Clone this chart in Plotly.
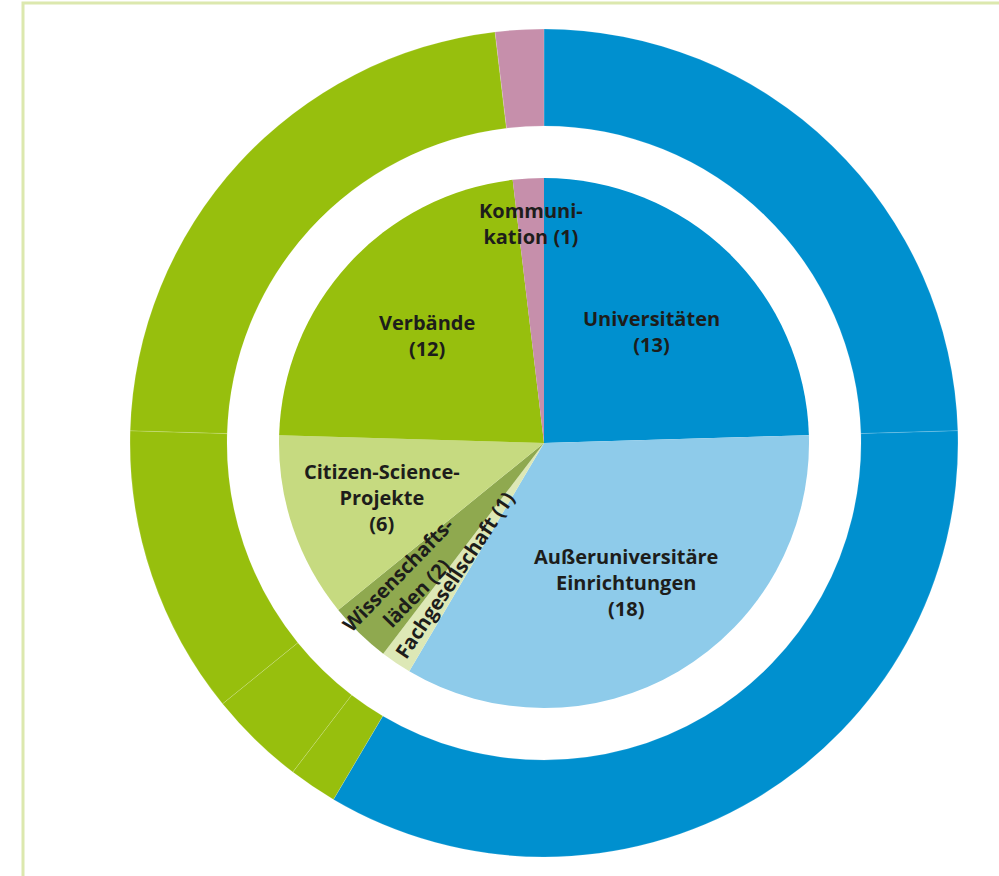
import math
import plotly.graph_objects as go

# ---- data ----
categories = ["Universitäten", "Außeruniversitäre Einrichtungen", "Fachgesellschaft",
              "Wissenschaftsläden", "Citizen-Science-Projekte", "Verbände", "Kommunikation"]
values = [13, 18, 1, 2, 6, 12, 1]
label_texts = ["Universitäten<br>(13)", "Außeruniversitäre<br>Einrichtungen<br>(18)",
               "Fachgesellschaft (1)", "Wissenschafts-<br>läden (2)",
               "Citizen-Science-<br>Projekte<br>(6)", "Verbände<br>(12)", "Kommuni-<br>kation (1)"]

# ---- styles ----
inner_colors = ["#0090cf", "#8ecbea", "#dde8b6", "#8fa94f", "#c6da80", "#97bf0d", "#c68fab"]
outer_colors = ["#0090cf", "#0090cf", "#97bf0d", "#97bf0d", "#97bf0d", "#97bf0d", "#c68fab"]
label_rfrac = [0.585, 0.61, 0.6, 0.74, 0.646, 0.6, 0.83]
label_radial = [False, False, True, True, False, False, False]

W, H = 999, 876
cx, cy = 544, 443          # pixel centre (from top)
R_out, R_hole, R_in = 414, 317, 265

def dom(r):
    ycb = H - cy
    return dict(x=[(cx - r) / W, (cx + r) / W], y=[(ycb - r) / H, (ycb + r) / H])

fig = go.Figure()
fig.add_trace(go.Pie(
    labels=categories, values=values, sort=False, direction="clockwise", rotation=0,
    hole=R_hole / R_out, domain=dom(R_out), textinfo="none", hoverinfo="label+value",
    marker=dict(colors=outer_colors, line=dict(color="rgba(255,255,255,0.15)", width=1)),
    showlegend=False))
fig.add_trace(go.Pie(
    labels=categories, values=values, sort=False, direction="clockwise", rotation=0,
    domain=dom(R_in), textinfo="none", hoverinfo="label+value",
    marker=dict(colors=inner_colors, line=dict(width=0)),
    showlegend=False))

total = sum(values)
cum = 0
annotations = []
for v, txt, rf, radial in zip(values, label_texts, label_rfrac, label_radial):
    mid = (cum + v / 2) / total * 360
    cum += v
    a = math.radians(mid)
    px = cx + rf * R_in * math.sin(a)
    py = cy - rf * R_in * math.cos(a)
    ang = 0
    if radial:
        ang = -(90 - (mid - 180))
    annotations.append(dict(
        x=px / W, y=1 - py / H, xref="paper", yref="paper", text="<b>" + txt + "</b>",
        showarrow=False, xanchor="center", yanchor="middle", textangle=ang,
        font=dict(family="Open Sans", size=20, color="#1d1d1b")))

fig.update_layout(
    width=W, height=H, margin=dict(l=0, r=0, t=0, b=0),
    paper_bgcolor="white", plot_bgcolor="white",
    annotations=annotations,
    shapes=[dict(type="rect", xref="paper", yref="paper", x0=23 / W, x1=1.05,
                 y0=-0.05, y1=1 - 3 / H, line=dict(color="#dce8ae", width=3))])

fig.write_html("out.html", config={"displayModeBar": False},
               post_script="document.body.style.margin='0';")
